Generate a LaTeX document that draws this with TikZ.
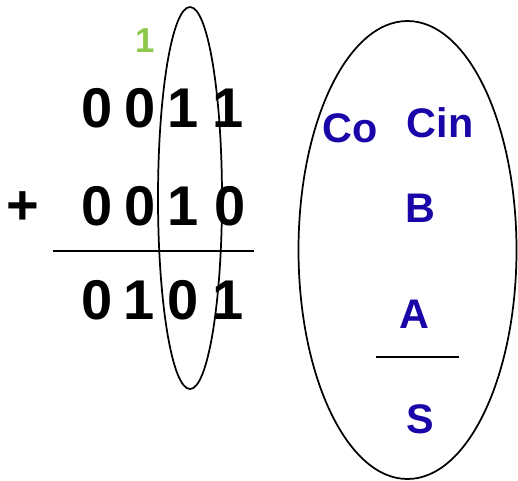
\documentclass[tikz,border=0pt]{standalone}
\usepackage{fontspec}
\setmainfont{Liberation Sans}
\usepackage{xcolor}
\usetikzlibrary{positioning}
\definecolor{carryGreen}{HTML}{8DC84B}
\definecolor{faBlue}{HTML}{1A05A8}

\begin{document}
\begin{tikzpicture}[x=0.75pt,y=-0.75pt,
  digit/.style={font=\fontsize{42}{42}\selectfont\bfseries,inner sep=0pt},
  sig/.style={font=\fontsize{31}{31}\selectfont\bfseries,text=faBlue,inner sep=0pt},
  ring/.style={draw=black,line width=1.3pt}]
\useasboundingbox (0,0) rectangle (518,480);
% --- column addition ---
\node[digit,font=\fontsize{26}{26}\selectfont\bfseries,text=carryGreen] (carry) at (145,41) {1};
\foreach \x/\d [count=\i] in {97/0,140/0,183/1,228/1} {\node[digit] (A\i) at (\x,108) {\d};}
\node[digit] (plus) at (23,208) {+};
\foreach \x/\d [count=\i] in {97/0,140/0,183/1,230/0} {\node[digit] (B\i) at (\x,206) {\d};}
\coordinate (barL) at (53,251);
\coordinate (barR) at (254,251);
\draw[line width=1.3pt] (barL) -- (barR);
\foreach \x/\d [count=\i] in {97/0,139/1,183/0,228/1} {\node[digit] (S\i) at (\x,300) {\d};}
\draw[ring] (190,198) ellipse [x radius=32,y radius=191];
% --- one bit slice ---
\draw[ring] (407.5,250) ellipse [x radius=109,y radius=229];
\node[sig] (co) at (350,128) {Co};
\node[sig] (cin) at (440,123) {Cin};
\node[sig] (b) at (420,208) {B};
\node[sig] (a) at (414,314) {A};
\coordinate (sumL) at (376,357);
\coordinate (sumR) at (459,357);
\draw[line width=1.3pt] (sumL) -- (sumR);
\node[sig] (s) at (420,419) {S};
\end{tikzpicture}
\end{document}
